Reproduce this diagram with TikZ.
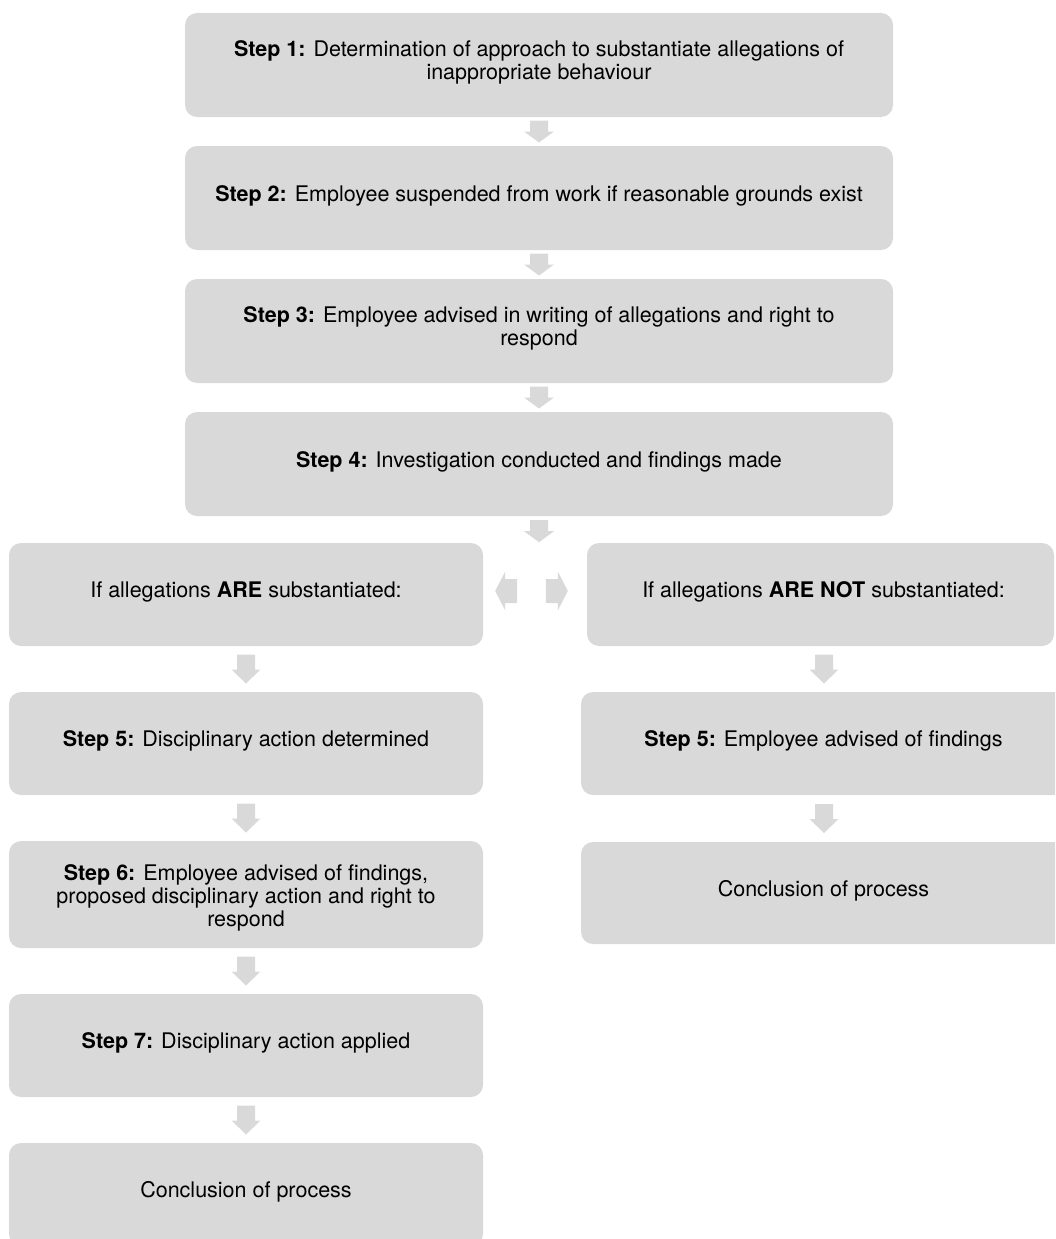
\documentclass[tikz,border=0pt]{standalone}
\usepackage{fontspec}
\setmainfont{TeX Gyre Heros}
\usetikzlibrary{calc}
\definecolor{boxgray}{HTML}{D9D9D9}
\definecolor{arrgray}{HTML}{D9D9D9}
\newcommand{\boxtxt}[2][1.5]{\raisebox{#1pt}[\height][\depth]{\begin{tabular}{@{}c@{}}#2\end{tabular}}}
\tikzset{
  stepbox/.style={fill=boxgray, draw=none, rounded corners=12pt, inner sep=0pt,
    font=\fontsize{21.5}{23}\selectfont, text=black},
  wide/.style={minimum width=708pt, minimum height=104pt},
  col/.style={minimum width=#1, minimum height=103pt},
  darrowS/.pic={\fill[arrgray] (-9,-11) -- (9,-11) -- (9,0) -- (15,0) -- (0,11) -- (-15,0) -- (-9,0) -- cycle;},
  darrowL/.pic={\fill[arrgray] (-9,-14.5) -- (9,-14.5) -- (9,0.5) -- (14.5,0.5) -- (0,14.5) -- (-14.5,0.5) -- (-9,0.5) -- cycle;},
  harrow/.pic={\fill[arrgray] (-11,0) -- (-1,-19.5) -- (-1,-12) -- (11,-12) -- (11,12) -- (-1,12) -- (-1,19.5) -- cycle;}
}
\begin{document}
\begin{tikzpicture}[x=1pt,y=-1pt]
\useasboundingbox (0,0) rectangle (1055,1239);
\begin{scope}
\clip (0,0) rectangle (1055,1239);
% main column
\node[stepbox, wide] (s1) at (539,65) {\boxtxt{\textbf{Step 1:} Determination of approach to substantiate allegations of\\inappropriate behaviour}};
\node[stepbox, wide] (s2) at (539,198) {\boxtxt{\textbf{Step 2:} Employee suspended from work if reasonable grounds exist}};
\node[stepbox, wide] (s3) at (539,331) {\boxtxt[2]{\textbf{Step 3:} Employee advised in writing of allegations and right to\\respond}};
\node[stepbox, wide] (s4) at (539,464) {\boxtxt{\textbf{Step 4:} Investigation conducted and findings made}};
% branches
\node[stepbox, col=474pt] (ya) at (246,594.5) {\boxtxt{If allegations \textbf{ARE} substantiated:}};
\node[stepbox, col=467pt] (na) at (820.5,594.5) {\boxtxt{\hspace*{6pt}If allegations \textbf{ARE NOT} substantiated:}};
% left column
\node[stepbox, col=474pt] (l5) at (246,743.5) {\boxtxt{\textbf{Step 5:} Disciplinary action determined}};
\node[stepbox, minimum width=474pt, minimum height=107pt] (l6) at (246,894.5) {\boxtxt[-4]{\textbf{Step 6:} Employee advised of findings,\\proposed disciplinary action and right to\\respond}};
\node[stepbox, col=474pt] (l7) at (246,1045.5) {\boxtxt{\textbf{Step 7:} Disciplinary action applied}};
\node[stepbox, col=474pt] (lc) at (246,1194.5) {\boxtxt{Conclusion of process}};
% right column (extends past the right edge)
\node[stepbox, col=485pt] (r5) at (823.5,743.5) {\boxtxt{\textbf{Step 5:} Employee advised of findings}};
\node[stepbox, minimum width=485pt, minimum height=102pt] (rc) at (823.5,893) {\boxtxt{Conclusion of process}};
% arrows main column
\pic at ($(s1.south)!0.5!(s2.north)$) {darrowS};
\pic at ($(s2.south)!0.5!(s3.north)$) {darrowS};
\pic at ($(s3.south)!0.5!(s4.north)$) {darrowS};
\pic at ($(s4.south)+(0,15)$) {darrowS};
\pic at ($(ya.east)+(23,-3.5)$) {harrow};
\pic[xscale=-1] at ($(na.west)+(-30,-3.5)$) {harrow};
% arrows left column
\pic at ($(ya.south)!0.5!(l5.north)$) {darrowL};
\pic at ($(l5.south)!0.5!(l6.north)$) {darrowL};
\pic at ($(l6.south)!0.5!(l7.north)$) {darrowL};
\pic at ($(l7.south)!0.5!(lc.north)$) {darrowL};
% arrows right column
\pic at ($(na.south)!0.5!(r5.north)+(2,0)$) {darrowL};
\pic at ($(r5.south)!0.5!(rc.north)+(0.5,0)$) {darrowL};
\end{scope}
\end{tikzpicture}
\end{document}
